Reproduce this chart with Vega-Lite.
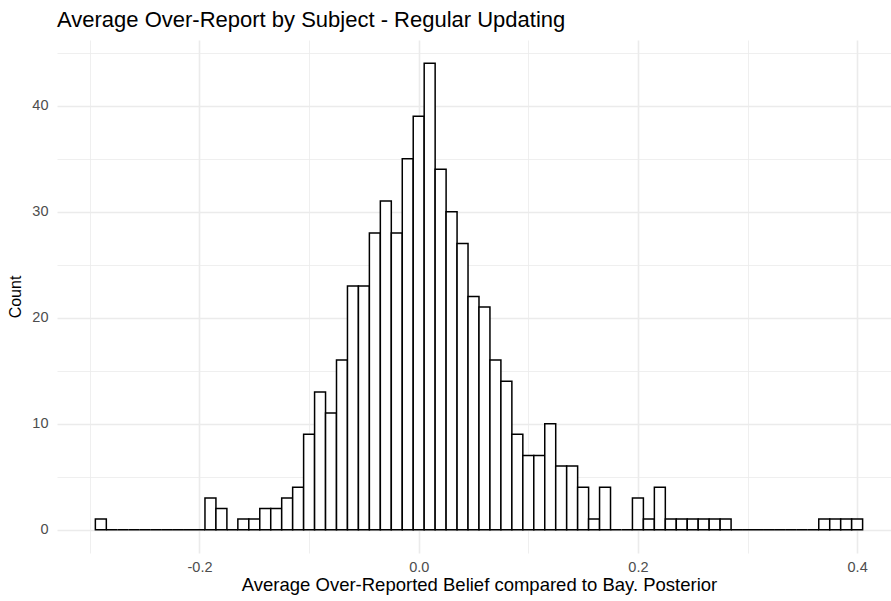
{
  "$schema": "https://vega.github.io/schema/vega-lite/v6.json",
  "autosize": {"type": "none"},
  "padding": {"left": 57, "top": 40, "right": 0, "bottom": 48},
  "width": 834,
  "height": 513,
  "background": "white",
  "config": {
    "view": {"stroke": null},
    "font": "Liberation Sans"
  },
  "title": {
    "text": "Average Over-Report by Subject - Regular Updating",
    "anchor": "start",
    "frame": "group",
    "fontSize": 22,
    "fontWeight": "normal",
    "color": "black",
    "baseline": "alphabetic",
    "offset": -9
  },
  "data": {
    "values": [
      {"lo": -0.295, "hi": -0.285, "n": 1},
      {"lo": -0.285, "hi": -0.275, "n": 0},
      {"lo": -0.275, "hi": -0.265, "n": 0},
      {"lo": -0.265, "hi": -0.255, "n": 0},
      {"lo": -0.255, "hi": -0.245, "n": 0},
      {"lo": -0.245, "hi": -0.235, "n": 0},
      {"lo": -0.235, "hi": -0.225, "n": 0},
      {"lo": -0.225, "hi": -0.215, "n": 0},
      {"lo": -0.215, "hi": -0.205, "n": 0},
      {"lo": -0.205, "hi": -0.195, "n": 0},
      {"lo": -0.195, "hi": -0.185, "n": 3},
      {"lo": -0.185, "hi": -0.175, "n": 2},
      {"lo": -0.175, "hi": -0.165, "n": 0},
      {"lo": -0.165, "hi": -0.155, "n": 1},
      {"lo": -0.155, "hi": -0.145, "n": 1},
      {"lo": -0.145, "hi": -0.135, "n": 2},
      {"lo": -0.135, "hi": -0.125, "n": 2},
      {"lo": -0.125, "hi": -0.115, "n": 3},
      {"lo": -0.115, "hi": -0.105, "n": 4},
      {"lo": -0.105, "hi": -0.095, "n": 9},
      {"lo": -0.095, "hi": -0.085, "n": 13},
      {"lo": -0.085, "hi": -0.075, "n": 11},
      {"lo": -0.075, "hi": -0.065, "n": 16},
      {"lo": -0.065, "hi": -0.055, "n": 23},
      {"lo": -0.055, "hi": -0.045, "n": 23},
      {"lo": -0.045, "hi": -0.035, "n": 28},
      {"lo": -0.035, "hi": -0.025, "n": 31},
      {"lo": -0.025, "hi": -0.015, "n": 28},
      {"lo": -0.015, "hi": -0.005, "n": 35},
      {"lo": -0.005, "hi": 0.005, "n": 39},
      {"lo": 0.005, "hi": 0.015, "n": 44},
      {"lo": 0.015, "hi": 0.025, "n": 34},
      {"lo": 0.025, "hi": 0.035, "n": 30},
      {"lo": 0.035, "hi": 0.045, "n": 27},
      {"lo": 0.045, "hi": 0.055, "n": 22},
      {"lo": 0.055, "hi": 0.065, "n": 21},
      {"lo": 0.065, "hi": 0.075, "n": 16},
      {"lo": 0.075, "hi": 0.085, "n": 14},
      {"lo": 0.085, "hi": 0.095, "n": 9},
      {"lo": 0.095, "hi": 0.105, "n": 7},
      {"lo": 0.105, "hi": 0.115, "n": 7},
      {"lo": 0.115, "hi": 0.125, "n": 10},
      {"lo": 0.125, "hi": 0.135, "n": 6},
      {"lo": 0.135, "hi": 0.145, "n": 6},
      {"lo": 0.145, "hi": 0.155, "n": 4},
      {"lo": 0.155, "hi": 0.165, "n": 1},
      {"lo": 0.165, "hi": 0.175, "n": 4},
      {"lo": 0.175, "hi": 0.185, "n": 0},
      {"lo": 0.185, "hi": 0.195, "n": 0},
      {"lo": 0.195, "hi": 0.205, "n": 3},
      {"lo": 0.205, "hi": 0.215, "n": 1},
      {"lo": 0.215, "hi": 0.225, "n": 4},
      {"lo": 0.225, "hi": 0.235, "n": 1},
      {"lo": 0.235, "hi": 0.245, "n": 1},
      {"lo": 0.245, "hi": 0.255, "n": 1},
      {"lo": 0.255, "hi": 0.265, "n": 1},
      {"lo": 0.265, "hi": 0.275, "n": 1},
      {"lo": 0.275, "hi": 0.285, "n": 1},
      {"lo": 0.285, "hi": 0.295, "n": 0},
      {"lo": 0.295, "hi": 0.305, "n": 0},
      {"lo": 0.305, "hi": 0.315, "n": 0},
      {"lo": 0.315, "hi": 0.325, "n": 0},
      {"lo": 0.325, "hi": 0.335, "n": 0},
      {"lo": 0.335, "hi": 0.345, "n": 0},
      {"lo": 0.345, "hi": 0.355, "n": 0},
      {"lo": 0.355, "hi": 0.365, "n": 0},
      {"lo": 0.365, "hi": 0.375, "n": 1},
      {"lo": 0.375, "hi": 0.385, "n": 1},
      {"lo": 0.385, "hi": 0.395, "n": 1},
      {"lo": 0.395, "hi": 0.405, "n": 1}
    ]
  },
  "mark": {"type": "bar", "fill": "white", "stroke": "black", "strokeWidth": 1.5},
  "encoding": {
    "x": {
      "field": "lo",
      "type": "quantitative",
      "scale": {"domain": [-0.33, 0.4309], "nice": false, "zero": false},
      "axis": {
        "title": "Average Over-Reported Belief compared to Bay. Posterior",
        "titleX": 422,
        "values": [-0.3, -0.2, -0.1, 0, 0.1, 0.2, 0.3, 0.4],
        "labelExpr": "abs(round(datum.value * 10)) % 2 == 0 ? replace(format(datum.value, '.1f'), '\u2212', '-') : ''",
        "domain": false,
        "ticks": false,
        "grid": true,
        "gridColor": "#EBEBEB",
        "gridWidth": {"condition": {"test": "abs(round(datum.value * 10)) % 2 == 0", "value": 1.6}, "value": 0.8},
        "labelFontSize": 14.5,
        "labelColor": "#4D4D4D",
        "labelPadding": 7,
        "labelFont": "Liberation Sans",
        "titleFont": "Liberation Sans",
        "titleFontSize": 18.5,
        "titleFontWeight": "normal",
        "titleColor": "black",
        "titlePadding": 2
      }
    },
    "x2": {"field": "hi"},
    "y": {
      "field": "n",
      "type": "quantitative",
      "scale": {"domain": [-2.2, 46.2], "nice": false, "zero": false},
      "axis": {
        "title": "Count",
        "values": [0, 5, 10, 15, 20, 25, 30, 35, 40, 45],
        "labelExpr": "datum.value % 10 == 0 ? datum.label : ''",
        "domain": false,
        "ticks": false,
        "grid": true,
        "gridColor": "#EBEBEB",
        "gridWidth": {"condition": {"test": "datum.value % 10 == 0", "value": 1.6}, "value": 0.8},
        "labelFontSize": 14.5,
        "labelColor": "#4D4D4D",
        "labelPadding": 9,
        "labelFont": "Liberation Sans",
        "titleFont": "Liberation Sans",
        "titleFontSize": 16,
        "titleFontWeight": "normal",
        "titleColor": "black",
        "titlePadding": 8
      }
    },
    "y2": {"datum": 0}
  }
}
